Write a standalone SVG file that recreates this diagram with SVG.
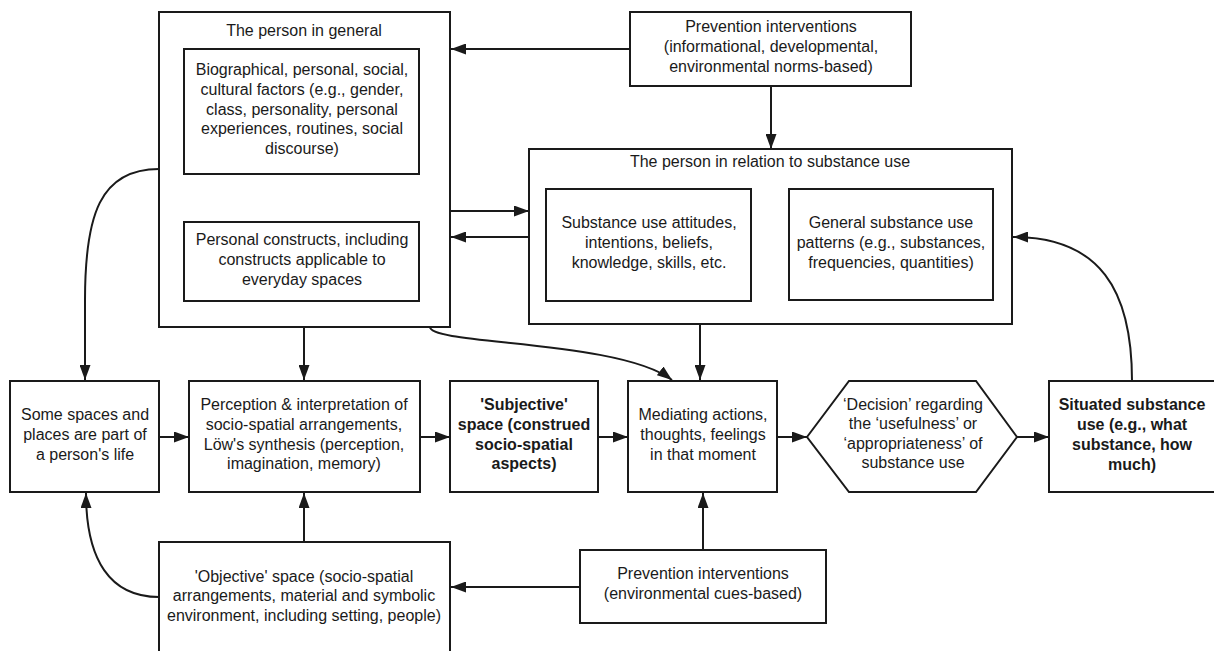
<svg xmlns="http://www.w3.org/2000/svg" width="1214" height="651" viewBox="0 0 1214 651">
  <style>
    .box { fill: #fff; stroke: #1a1a1a; stroke-width: 2; }
    .t { font-family: "Liberation Sans", Arial, sans-serif; font-size: 16px; fill: #1a1a1a; text-anchor: middle; }
    .b { font-weight: bold; }
    .c { fill: none; stroke: #1a1a1a; stroke-width: 2; marker-end: url(#ah); }
  </style>
  <defs>
    <marker id="ah" markerUnits="userSpaceOnUse" markerWidth="15" markerHeight="11" refX="15" refY="5.5" orient="auto-start-reverse" viewBox="0 0 15 11">
      <path d="M0,0 L15,5.5 L0,11 z" fill="#1a1a1a"/>
    </marker>
  </defs>
  <rect width="1214" height="651" fill="#fff"/>

  <!-- connectors -->
  <g id="connectors">
    <path class="c" d="M630,49 L451,49"/>
    <path class="c" d="M771,86 L771,149"/>
    <path class="c" d="M302,175 L302,221" marker-start="url(#ah)"/>
    <path class="c" d="M451,211 L529,211"/>
    <path class="c" d="M529,237 L451,237"/>
    <path class="c" d="M751,245 L789,245"/>
    <path class="c" d="M159,169 C100,169 85,215 85,300 L85,380"/>
    <path class="c" d="M304,328 L304,380"/>
    <path class="c" d="M430,327 C430,345 620,340 672,380"/>
    <path class="c" d="M700,324 L700,380"/>
    <path class="c" d="M159,437 L189,437"/>
    <path class="c" d="M420,437 L450,437"/>
    <path class="c" d="M598,437 L628,437"/>
    <path class="c" d="M777,437 L807,437"/>
    <path class="c" d="M1017,437 L1049,437"/>
    <path class="c" d="M1132,381 C1132,290 1100,237 1013,237"/>
    <path class="c" d="M304,542 L304,493"/>
    <path class="c" d="M159,597 C110,597 86,560 86,493"/>
    <path class="c" d="M580,587 L451,587"/>
    <path class="c" d="M703,549 L703,493"/>
  </g>

  <!-- the person in general -->
  <g id="person-general">
    <rect class="box" x="159" y="12" width="291" height="315"/>
    <text class="t" x="304" y="36">The person in general</text>
  </g>
  <g id="biographical">
    <rect class="box" x="184" y="49" width="235" height="125"/>
    <text class="t" x="302" y="75">Biographical, personal, social,</text>
    <text class="t" x="302" y="95">cultural factors (e.g., gender,</text>
    <text class="t" x="302" y="115">class, personality, personal</text>
    <text class="t" x="302" y="134">experiences, routines, social</text>
    <text class="t" x="302" y="154">discourse)</text>
  </g>
  <g id="constructs">
    <rect class="box" x="184" y="222" width="235" height="79"/>
    <text class="t" x="302" y="245">Personal constructs, including</text>
    <text class="t" x="302" y="265">constructs applicable to</text>
    <text class="t" x="302" y="285">everyday spaces</text>
  </g>

  <!-- prevention (top) -->
  <g id="prevention-top">
    <rect class="box" x="630" y="12" width="281" height="74"/>
    <text class="t" x="771" y="32">Prevention interventions</text>
    <text class="t" x="771" y="52">(informational, developmental,</text>
    <text class="t" x="771" y="72">environmental norms-based)</text>
  </g>

  <!-- the person in relation to substance use -->
  <g id="person-substance">
    <rect class="box" x="529" y="149" width="483" height="175"/>
    <text class="t" x="770" y="167">The person in relation to substance use</text>
  </g>
  <g id="attitudes">
    <rect class="box" x="546" y="189" width="205" height="112"/>
    <text class="t" x="649" y="228">Substance use attitudes,</text>
    <text class="t" x="649" y="248">intentions, beliefs,</text>
    <text class="t" x="649" y="268">knowledge, skills, etc.</text>
  </g>
  <g id="patterns">
    <rect class="box" x="789" y="189" width="204" height="111"/>
    <text class="t" x="891" y="228">General substance use</text>
    <text class="t" x="891" y="248">patterns (e.g., substances,</text>
    <text class="t" x="891" y="268">frequencies, quantities)</text>
  </g>

  <!-- middle row -->
  <g id="spaces-places">
    <rect class="box" x="10" y="381" width="149" height="111"/>
    <text class="t" x="85" y="420">Some spaces and</text>
    <text class="t" x="85" y="440">places are part of</text>
    <text class="t" x="85" y="460">a person's life</text>
  </g>
  <g id="perception">
    <rect class="box" x="189" y="381" width="231" height="111"/>
    <text class="t" x="304" y="410">Perception &amp; interpretation of</text>
    <text class="t" x="304" y="430">socio-spatial arrangements,</text>
    <text class="t" x="304" y="450">Löw's synthesis (perception,</text>
    <text class="t" x="304" y="469">imagination, memory)</text>
  </g>
  <g id="subjective">
    <rect class="box" x="450" y="381" width="148" height="111"/>
    <text class="t b" x="524" y="410">'Subjective'</text>
    <text class="t b" x="524" y="430">space (construed</text>
    <text class="t b" x="524" y="450">socio-spatial</text>
    <text class="t b" x="524" y="469">aspects)</text>
  </g>
  <g id="mediating">
    <rect class="box" x="628" y="381" width="149" height="111"/>
    <text class="t" x="703" y="420">Mediating actions,</text>
    <text class="t" x="703" y="440">thoughts, feelings</text>
    <text class="t" x="703" y="460">in that moment</text>
  </g>
  <g id="decision">
    <polygon class="box" points="807,437 849,381 976,381 1017,437 976,492 849,492"/>
    <text class="t" x="913" y="410">‘Decision’ regarding</text>
    <text class="t" x="913" y="429">the ‘usefulness’ or</text>
    <text class="t" x="913" y="449">‘appropriateness’ of</text>
    <text class="t" x="913" y="468">substance use</text>
  </g>
  <g id="situated">
    <rect class="box" x="1049" y="381" width="170" height="111"/>
    <text class="t b" x="1132" y="410">Situated substance</text>
    <text class="t b" x="1132" y="430">use (e.g., what</text>
    <text class="t b" x="1132" y="450">substance, how</text>
    <text class="t b" x="1132" y="470">much)</text>
  </g>

  <!-- bottom row -->
  <g id="objective">
    <rect class="box" x="159" y="542" width="291" height="125"/>
    <text class="t" x="304" y="582">'Objective' space (socio-spatial</text>
    <text class="t" x="304" y="601">arrangements, material and symbolic</text>
    <text class="t" x="304" y="621">environment, including setting, people)</text>
  </g>
  <g id="prevention-bottom">
    <rect class="box" x="580" y="550" width="246" height="73"/>
    <text class="t" x="703" y="579">Prevention interventions</text>
    <text class="t" x="703" y="599">(environmental cues-based)</text>
  </g>
</svg>
